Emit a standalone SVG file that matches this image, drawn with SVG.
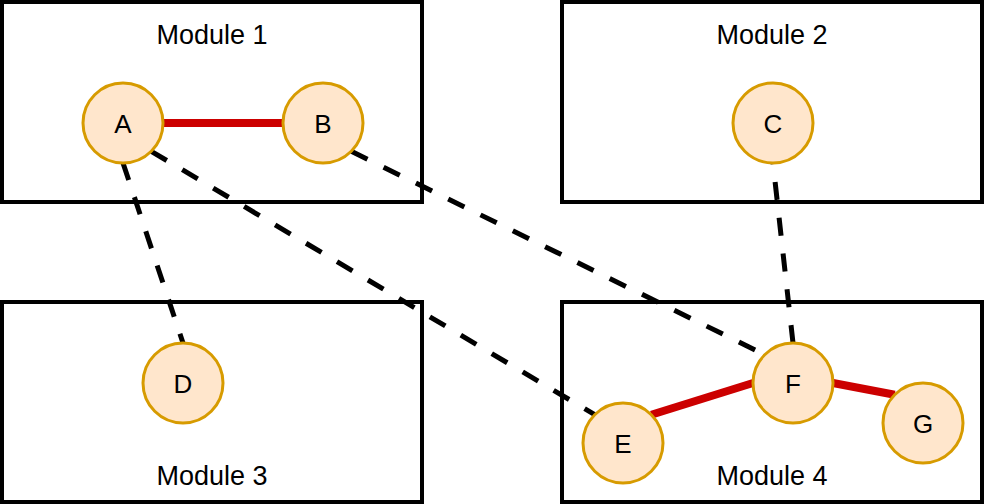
<svg xmlns="http://www.w3.org/2000/svg" width="984" height="504" viewBox="0 0 984 504">
<style>
.box{fill:#ffffff;stroke:#000000;stroke-width:4}
.mod{font-family:"Liberation Sans",Arial,sans-serif;font-size:27px;fill:#000000;text-anchor:middle}
.node{fill:#ffe6cc;stroke:#d79b00;stroke-width:3}
.lbl{font-family:"Liberation Sans",Arial,sans-serif;font-size:26px;fill:#000000;text-anchor:middle}
.solid{stroke:#cc0000;stroke-width:8;fill:none}
.dash{stroke:#000000;stroke-width:5;stroke-dasharray:18 18;fill:none}
</style>
<rect width="984" height="504" fill="#ffffff"/>
<g id="module1"><rect class="box" x="2" y="2" width="420" height="200"/><text class="mod" x="212" y="43.5">Module 1</text></g>
<g id="module2"><rect class="box" x="562" y="2" width="420" height="200"/><text class="mod" x="772" y="43.5">Module 2</text></g>
<g id="module3"><rect class="box" x="2" y="302" width="420" height="200"/><text class="mod" x="212" y="484.5">Module 3</text></g>
<g id="module4"><rect class="box" x="562" y="302" width="420" height="200"/><text class="mod" x="772" y="484.5">Module 4</text></g>
<g id="connectors">
<line class="solid" x1="163" y1="123" x2="283" y2="123"/>
<line class="solid" x1="651.3" y1="414.7" x2="753" y2="383"/>
<line class="solid" x1="833" y1="383" x2="894.7" y2="394.7"/>
<line class="dash" x1="123" y1="163" x2="183" y2="343"/>
<line class="dash" x1="151.3" y1="151.3" x2="594.7" y2="414.7"/>
<line class="dash" x1="351.3" y1="151.3" x2="764.7" y2="354.7"/>
<line class="dash" x1="793" y1="343" x2="773" y2="163"/>
</g>
<g id="A"><circle class="node" cx="123" cy="123" r="40"/><text class="lbl" x="123" y="133">A</text></g>
<g id="B"><circle class="node" cx="323" cy="123" r="40"/><text class="lbl" x="323" y="133">B</text></g>
<g id="C"><circle class="node" cx="773" cy="123" r="40"/><text class="lbl" x="773" y="133">C</text></g>
<g id="D"><circle class="node" cx="183" cy="383" r="40"/><text class="lbl" x="183" y="393">D</text></g>
<g id="E"><circle class="node" cx="623" cy="443" r="40"/><text class="lbl" x="623" y="453">E</text></g>
<g id="F"><circle class="node" cx="793" cy="383" r="40"/><text class="lbl" x="793" y="393">F</text></g>
<g id="G"><circle class="node" cx="923" cy="423" r="40"/><text class="lbl" x="923" y="433">G</text></g>
</svg>
